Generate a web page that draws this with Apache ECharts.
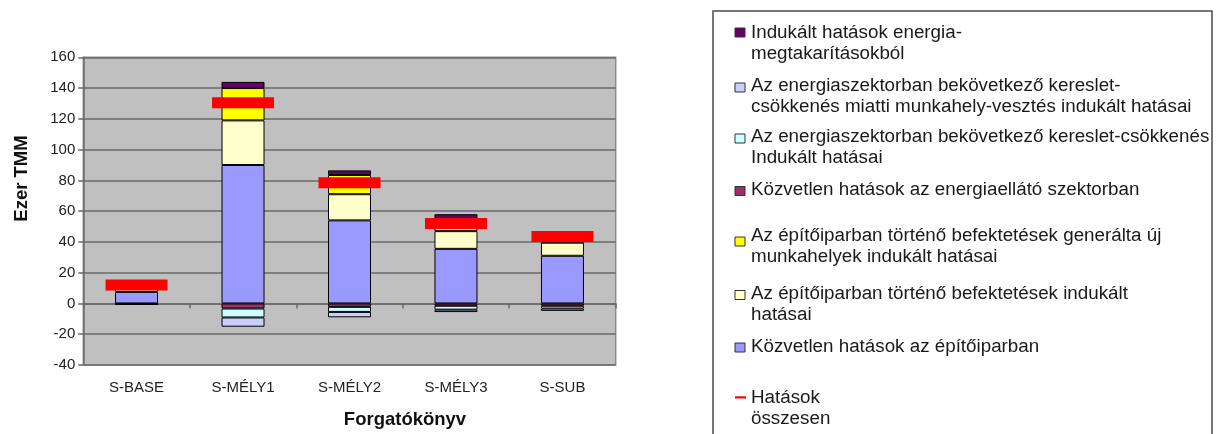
<!DOCTYPE html>
<html>
<head>
<meta charset="utf-8">
<title>Hatások forgatókönyvenként</title>
<script src="https://cdn.jsdelivr.net/npm/echarts@6/dist/echarts.min.js"></script>
<style>
  html, body { margin: 0; padding: 0; background: #ffffff; }
  #chart { width: 1218px; height: 434px; }
</style>
</head>
<body>
<div id="chart"></div>
<script>
// Scenarios on the category axis
const categories = ['S-BASE', 'S-MÉLY1', 'S-MÉLY2', 'S-MÉLY3', 'S-SUB'];

// Stacked components, thousand TMM
const directConstruction = [7.5, 90, 54, 35.5, 31];
const inducedConstruction = [4, 29, 17, 11.5, 8.5];
const inducedNewJobs = [1, 21, 12.5, 5, 5.5];
const directEnergySupply = [-0.3, -3.3, -2.2, -1.5, -1.5];
const inducedDemandDrop = [-0.2, -5.8, -3.3, -2.5, -1.8];
const inducedJobLoss = [0, -6, -3.5, -1.6, -1.5];
const inducedSavings = [0, 4, 3, 6, 1.5];

// Net effect per scenario
const totalEffect = [12, 130.5, 78.5, 52, 43.5];

// Value axis range and step
const yMin = -40;
const yMax = 160;
const yStep = 20;

const FONT = "'Liberation Sans', Arial, sans-serif";
const GRID_LINE = '#6a6a6a';

const stackDefs = [
  { name: 'Közvetlen hatások az építőiparban', data: directConstruction, color: '#9999FF',
    legend: 'Közvetlen hatások az építőiparban' },
  { name: 'Az építőiparban történő befektetések indukált hatásai', data: inducedConstruction, color: '#FFFFCC',
    legend: 'Az építőiparban történő befektetések indukált\nhatásai' },
  { name: 'Az építőiparban történő befektetések generálta új munkahelyek indukált hatásai', data: inducedNewJobs, color: '#FFFF00',
    legend: 'Az építőiparban történő befektetések generálta új\nmunkahelyek indukált hatásai' },
  { name: 'Közvetlen hatások az energiaellátó szektorban', data: directEnergySupply, color: '#993366',
    legend: 'Közvetlen hatások az energiaellátó szektorban' },
  { name: 'Az energiaszektorban bekövetkező kereslet-csökkenés Indukált hatásai', data: inducedDemandDrop, color: '#CCFFFF',
    legend: 'Az energiaszektorban bekövetkező kereslet-csökkenés\nIndukált hatásai' },
  { name: 'Az energiaszektorban bekövetkező kereslet-csökkenés miatti munkahely-vesztés indukált hatásai', data: inducedJobLoss, color: '#CCCCFF',
    legend: 'Az energiaszektorban bekövetkező kereslet-\ncsökkenés miatti munkahely-vesztés indukált hatásai' },
  { name: 'Indukált hatások energia-megtakarításokból', data: inducedSavings, color: '#660066',
    legend: 'Indukált hatások energia-\nmegtakarításokból' }
];

const series = stackDefs.map(d => ({
  name: d.name,
  type: 'bar',
  stack: 'osszes',
  barWidth: 43,
  data: d.data,
  itemStyle: { color: d.color, borderColor: '#000000', borderWidth: 1 },
  z: 2
}));

series.push({
  name: 'Hatások összesen',
  type: 'line',
  data: totalEffect,
  symbol: 'rect',
  symbolSize: [62, 11],
  showSymbol: true,
  lineStyle: { width: 0, opacity: 0 },
  itemStyle: { color: '#FF0000' },
  z: 5
});

// Legend panel on the right, drawn top to bottom
const legendX = 713;
const textX = 751;
const legendRows = [
  { def: stackDefs[6], line: 33, box: 32.5 },
  { def: stackDefs[5], line: 86, box: 87.5 },
  { def: stackDefs[4], line: 137, box: 138.5 },
  { def: stackDefs[3], line: 189.5, box: 191 },
  { def: stackDefs[2], line: 236, box: 241.5 },
  { def: stackDefs[1], line: 293.5, box: 295 },
  { def: stackDefs[0], line: 346.5, box: 347.5 }
];

const graphic = [
  {
    type: 'rect',
    shape: { x: legendX, y: 11, width: 499, height: 440 },
    style: { fill: '#ffffff', stroke: '#4a4a4a', lineWidth: 1.5 },
    z: 10
  }
];

legendRows.forEach(r => {
  graphic.push({
    type: 'rect',
    shape: { x: 735, y: r.box - 4.5, width: 10, height: 9 },
    style: { fill: r.def.color, stroke: '#333333', lineWidth: 1 },
    z: 11
  });
  graphic.push({
    type: 'text',
    x: textX,
    y: r.line - 10.5,
    style: {
      text: r.def.legend,
      font: '18.8px ' + FONT,
      fill: '#1a1a1a',
      lineHeight: 21,
      verticalAlign: 'top',
      align: 'left'
    },
    z: 11
  });
});

// Net-effect entry
graphic.push({
  type: 'rect',
  shape: { x: 735, y: 396.3, width: 11, height: 2.2 },
  style: { fill: '#FF0000' },
  z: 11
});
graphic.push({
  type: 'text',
  x: textX,
  y: 397.5 - 10.5,
  style: {
    text: 'Hatások\nösszesen',
    font: '18.8px ' + FONT,
    fill: '#1a1a1a',
    lineHeight: 21,
    verticalAlign: 'top',
    align: 'left'
  },
  z: 11
});

// Axis titles
graphic.push({
  type: 'text',
  x: 21.5,
  y: 178.5,
  rotation: Math.PI / 2,
  style: {
    text: 'Ezer TMM',
    font: 'bold 18.5px ' + FONT,
    fill: '#111111',
    align: 'center',
    verticalAlign: 'middle'
  },
  z: 11
});
graphic.push({
  type: 'text',
  x: 405,
  y: 420,
  style: {
    text: 'Forgatókönyv',
    font: 'bold 18.5px ' + FONT,
    fill: '#111111',
    align: 'center',
    verticalAlign: 'middle'
  },
  z: 11
});

const option = {
  animation: false,
  backgroundColor: '#ffffff',
  textStyle: { fontFamily: FONT },
  legend: { show: false },
  grid: {
    left: 83.3,
    right: 602.3,
    top: 57.3,
    bottom: 69,
    show: true,
    backgroundColor: '#C0C0C0',
    borderColor: '#8c8c8c',
    borderWidth: 1.5
  },
  xAxis: [
    {
      type: 'category',
      data: categories,
      axisLine: { show: false, onZero: false },
      axisTick: { show: false },
      axisLabel: { fontSize: 15, color: '#222222', margin: 15, fontFamily: FONT }
    },
    {
      type: 'category',
      data: categories,
      position: 'bottom',
      axisLine: { show: true, onZero: true, lineStyle: { color: GRID_LINE, width: 1.5 } },
      axisTick: { show: true, length: 5, inside: false, lineStyle: { color: GRID_LINE, width: 1.5 } },
      axisLabel: { show: false }
    }
  ],
  yAxis: {
    type: 'value',
    min: yMin,
    max: yMax,
    interval: yStep,
    axisLine: { show: true, lineStyle: { color: GRID_LINE, width: 1.5 } },
    axisTick: { show: true, length: 5, lineStyle: { color: GRID_LINE, width: 1.5 } },
    axisLabel: { fontSize: 15, color: '#222222', margin: 8, fontFamily: FONT },
    splitLine: { show: true, lineStyle: { color: GRID_LINE, width: 1.5 } }
  },
  series: series,
  graphic: graphic
};

const chart = echarts.init(document.getElementById('chart'), null, { renderer: 'canvas' });
chart.setOption(option);
</script>
</body>
</html>
